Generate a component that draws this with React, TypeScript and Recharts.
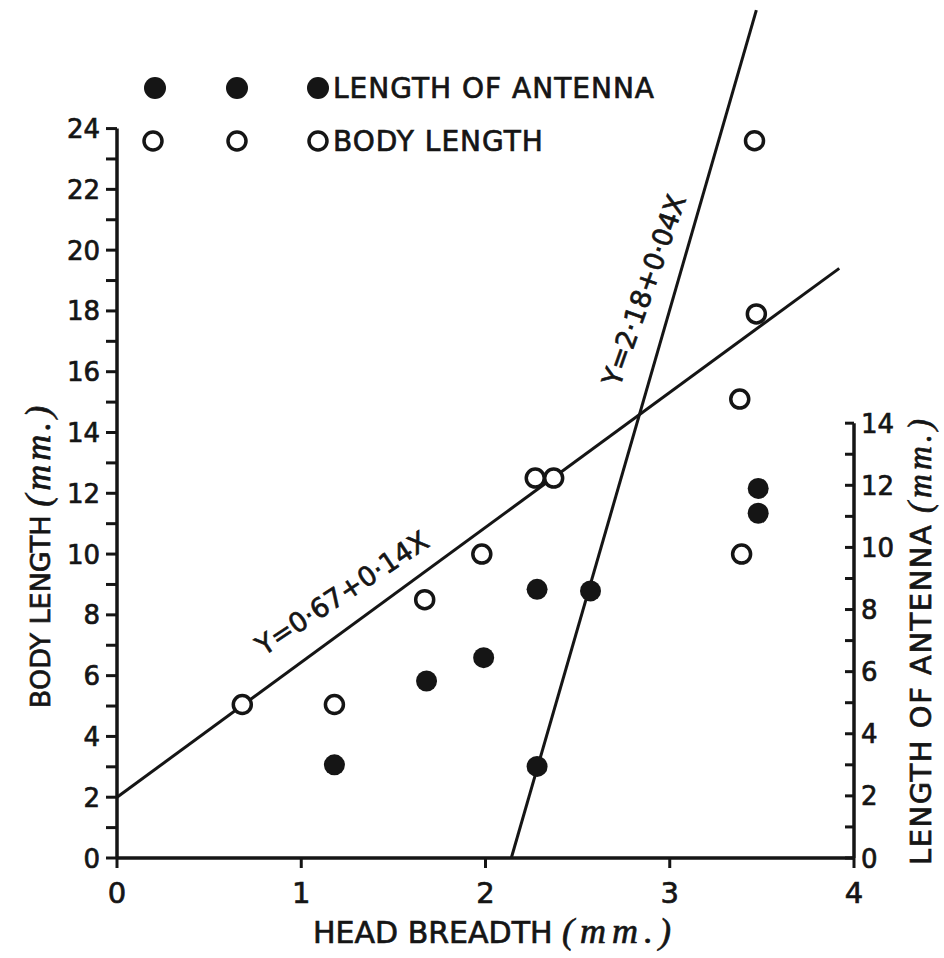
import React from 'react';
import { ScatterChart, Scatter, XAxis, YAxis, ReferenceLine } from 'recharts';

const INK = '#151515';
const FONT = '"DejaVu Sans", sans-serif';
const SCRIPT = '"Liberation Serif", serif';

// axis ticks
const headBreadthTicks = [0, 1, 2, 3, 4];
const bodyTicks = [0, 1, 2, 3, 4, 5, 6, 7, 8, 9, 10, 11, 12, 13, 14, 15, 16, 17, 18, 19, 20, 21, 22, 23, 24];
const antennaTicks = [0, 1, 2, 3, 4, 5, 6, 7, 8, 9, 10, 11, 12, 13, 14];

// body length (open circles, left axis)
const bodyX = [0.68, 1.18, 1.67, 1.98, 2.27, 2.37, 3.38, 3.39, 3.47, 3.46];
const bodyY = [5.05, 5.05, 8.5, 10.0, 12.5, 12.5, 15.1, 10.0, 17.9, 23.6];

// length of antenna (filled circles, right axis)
const antennaX = [1.18, 1.68, 1.99, 2.28, 2.28, 2.57, 3.48, 3.48];
const antennaY = [3.0, 5.7, 6.45, 8.65, 2.95, 8.6, 11.9, 11.1];

// fitted lines, end points
const bodyFitX = [0, 3.92];
const bodyFitY = [2.0, 19.4];
const antennaFitX = [2.14, 3.47];
const antennaFitY = [0, 27.3];

const toPoints = (xs: number[], ys: number[]) => xs.map((x, i) => ({ x, y: ys[i] }));

const bodyData = toPoints(bodyX, bodyY);
const antennaData = toPoints(antennaX, antennaY);
const bodyFit = toPoints(bodyFitX, bodyFitY);
const antennaFit = toPoints(antennaFitX, antennaFitY);

// a thin outline makes the type look closer to the hand lettering
const textInk = { fill: INK, stroke: INK, strokeWidth: 0.7 };

function OpenDot({ cx, cy }: any) {
  return <circle cx={cx} cy={cy} r={9} fill="#fff" stroke={INK} strokeWidth={3.5} />;
}

function FilledDot({ cx, cy }: any) {
  return <circle cx={cx} cy={cy} r={10.5} fill={INK} />;
}

const NoDot = () => <g />;

function HeadTick({ x, y, payload }: any) {
  return (
    <g>
      <line x1={x} y1={y} x2={x} y2={y + 10} stroke={INK} strokeWidth={3} />
      <text x={x} y={y + 45} textAnchor="middle" fontSize={29} fontFamily={FONT} {...textInk}>
        {payload.value}
      </text>
    </g>
  );
}

function BodyTick({ x, y, payload }: any) {
  const v = payload.value;
  return (
    <g>
      <line x1={x - 11} y1={y} x2={x} y2={y} stroke={INK} strokeWidth={3} />
      {v % 2 === 0 && (
        <text x={x - 17} y={y + 9.5} textAnchor="end" fontSize={26} fontFamily={FONT} {...textInk}>
          {v}
        </text>
      )}
    </g>
  );
}

function AntennaTick({ x, y, payload }: any) {
  const v = payload.value;
  return (
    <g>
      <line x1={x - 9} y1={y} x2={x} y2={y} stroke={INK} strokeWidth={3} />
      {v % 2 === 0 && (
        <text x={x + 7} y={y + 9.5} textAnchor="start" fontSize={26} fontFamily={FONT} {...textInk}>
          {v}
        </text>
      )}
    </g>
  );
}

function Overlay() {
  return (
    <svg
      width={944}
      height={958}
      style={{ position: 'absolute', left: 0, top: 0, pointerEvents: 'none' }}
      fontFamily={FONT}
    >
      {/* legend */}
      <circle cx={155} cy={88} r={11} fill={INK} />
      <circle cx={237} cy={88} r={11} fill={INK} />
      <circle cx={318} cy={88} r={11} fill={INK} />
      <text x={333} y={98} fontSize={28} letterSpacing={1} {...textInk}>LENGTH OF ANTENNA</text>
      <circle cx={153} cy={141} r={9} fill="#fff" stroke={INK} strokeWidth={3.5} />
      <circle cx={237} cy={141} r={9} fill="#fff" stroke={INK} strokeWidth={3.5} />
      <circle cx={318} cy={141} r={9} fill="#fff" stroke={INK} strokeWidth={3.5} />
      <text x={333} y={151} fontSize={28} letterSpacing={1} {...textInk}>BODY LENGTH</text>

      {/* regression labels */}
      <text
        x={342}
        y={593}
        fontSize={27}
        textAnchor="middle"
        dominantBaseline="central"
        transform="rotate(-33.5 342 593)"
        {...textInk}
      >
        Y=0·67+0·14X
      </text>
      <text
        x={644}
        y={290}
        fontSize={27}
        textAnchor="middle"
        dominantBaseline="central"
        transform="rotate(-70.5 644 290)"
        {...textInk}
      >
        Y=2·18+0·04X
      </text>

      {/* axis titles */}
      <text x={50} y={555} fontSize={27} textAnchor="middle" transform="rotate(-90 50 555)" {...textInk}>
        BODY LENGTH{' '}
        <tspan fontFamily={SCRIPT} fontStyle="italic" fontSize={36} letterSpacing={4}>
          (mm.)
        </tspan>
      </text>
      <text x={313} y={943} fontSize={30} {...textInk}>
        HEAD BREADTH{' '}
        <tspan fontFamily={SCRIPT} fontStyle="italic" fontSize={36} letterSpacing={6}>
          (mm.)
        </tspan>
      </text>
      <text
        x={931}
        y={640}
        fontSize={29}
        letterSpacing={1.5}
        textAnchor="middle"
        transform="rotate(-90 931 640)"
        {...textInk}
      >
        LENGTH OF ANTENNA{' '}
        <tspan fontFamily={SCRIPT} fontStyle="italic" fontSize={33} letterSpacing={4}>
          (mm.)
        </tspan>
      </text>
    </svg>
  );
}

export default function App() {
  return (
    <div
      style={{
        position: 'absolute',
        left: 0,
        top: 0,
        width: 944,
        height: 958,
        background: '#fff',
      }}
    >
      <ScatterChart width={944} height={958} margin={{ top: 7, right: 0, bottom: 0, left: 0 }}>
        <XAxis
          type="number"
          dataKey="x"
          domain={[0, 4]}
          ticks={headBreadthTicks}
          interval={0}
          height={100}
          axisLine={{ stroke: INK, strokeWidth: 3.5 }}
          tickLine={false}
          tickSize={0}
          tickMargin={0}
          tick={<HeadTick />}
        />
        <YAxis
          yAxisId="body"
          type="number"
          dataKey="y"
          orientation="left"
          domain={[0, 28]}
          ticks={bodyTicks}
          interval={0}
          width={117}
          axisLine={false}
          tickLine={false}
          tickSize={0}
          tickMargin={0}
          tick={<BodyTick />}
        />
        <YAxis
          yAxisId="antenna"
          type="number"
          dataKey="y"
          orientation="right"
          domain={[0, 27.4]}
          ticks={antennaTicks}
          interval={0}
          width={90}
          axisLine={false}
          tickLine={false}
          tickSize={0}
          tickMargin={0}
          tick={<AntennaTick />}
        />

        <ReferenceLine
          yAxisId="body"
          segment={[{ x: 0, y: 0 }, { x: 0, y: 24 }]}
          stroke={INK}
          strokeWidth={3.5}
          ifOverflow="visible"
        />
        <ReferenceLine
          yAxisId="antenna"
          segment={[{ x: 4, y: 0 }, { x: 4, y: 14 }]}
          stroke={INK}
          strokeWidth={3.5}
          ifOverflow="visible"
        />

        <Scatter
          yAxisId="body"
          data={bodyFit}
          line={{ stroke: INK, strokeWidth: 3 }}
          shape={NoDot}
          isAnimationActive={false}
        />
        <Scatter
          yAxisId="antenna"
          data={antennaFit}
          line={{ stroke: INK, strokeWidth: 3 }}
          shape={NoDot}
          isAnimationActive={false}
        />
        <Scatter yAxisId="body" data={bodyData} shape={OpenDot} isAnimationActive={false} />
        <Scatter yAxisId="antenna" data={antennaData} shape={FilledDot} isAnimationActive={false} />
      </ScatterChart>
      <Overlay />
    </div>
  );
}
